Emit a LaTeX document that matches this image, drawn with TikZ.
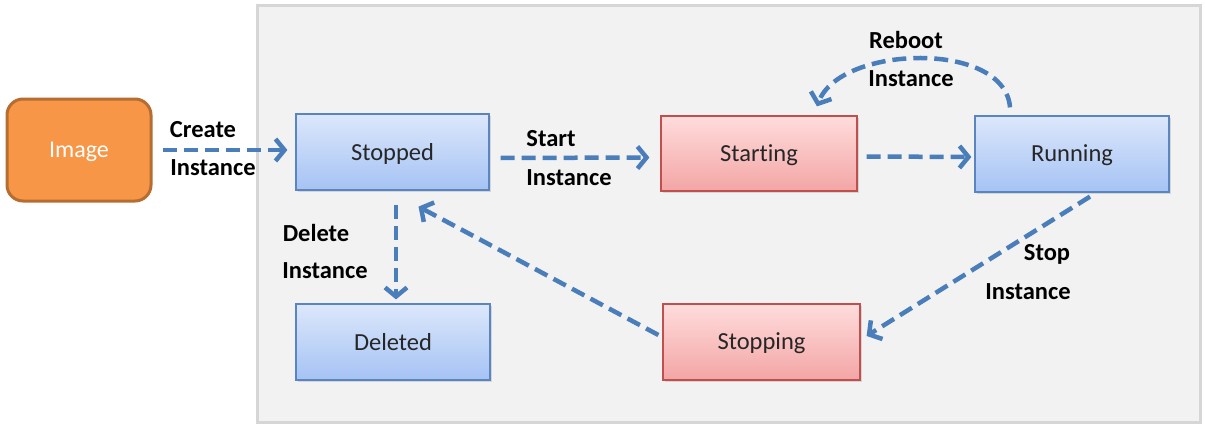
\documentclass[tikz,border=0pt]{standalone}
\usepackage{fontspec}
\setmainfont{Carlito}[Ligatures={NoCommon}]
\usetikzlibrary{arrows.meta,shadows}
\definecolor{arrblue}{HTML}{4A7EBB}
\definecolor{bluetop}{HTML}{DCE7FB}
\definecolor{bluebot}{HTML}{A5C3F4}
\definecolor{blueline}{HTML}{5B85C0}
\definecolor{redtop}{HTML}{FFDCDC}
\definecolor{redbot}{HTML}{F3A5A5}
\definecolor{redline}{HTML}{C0504D}
\definecolor{orangefill}{HTML}{F79646}
\definecolor{orangeline}{HTML}{B66D31}
\definecolor{panelfill}{HTML}{F2F2F2}
\definecolor{panelline}{HTML}{D6D6D6}
\tikzset{
  state/.style={draw, line width=1.2pt, font=\fontsize{24.5}{28}\selectfont, text=black!85,
    text depth=1pt,
    drop shadow={shadow xshift=1.5pt, shadow yshift=-1.5pt, opacity=0.25}},
  bluebox/.style={state, draw=blueline, top color=bluetop, bottom color=bluebot},
  redbox/.style={state, draw=redline, top color=redtop, bottom color=redbot},
  lbl/.style={font=\bfseries\fontsize{24.5}{28}\selectfont, inner sep=0pt},
  arr/.style={draw=arrblue, line width=4.5pt, dash pattern=on 14pt off 7pt,
    -{Straight Barb[length=9pt,width=22pt,line width=4.5pt]}},
}
\begin{document}
\begin{tikzpicture}[x=1pt,y=-1pt]
\useasboundingbox (0,0) rectangle (1205,428);
\fill[white] (0,0) rectangle (1205,428);
\draw[panelline, fill=panelfill, line width=3pt] (257,6) rectangle (1200,422);

\node[draw=orangeline, fill=orangefill, line width=3pt, rounded corners=16pt,
  minimum width=144pt, minimum height=102pt, text=white, text depth=1pt,
  font=\fontsize{24}{28}\selectfont] (img) at (79,150) {Image};

\node[bluebox, minimum width=193pt, minimum height=76pt] (stopped) at (392.5,152) {Stopped};
\node[redbox, minimum width=196pt, minimum height=75pt] (starting) at (759,153.5) {Starting};
\node[bluebox, minimum width=194pt, minimum height=76pt] (running) at (1072,154) {Running};
\node[bluebox, minimum width=194pt, minimum height=76pt] (deleted) at (393,342) {Deleted};
\node[redbox, minimum width=197pt, minimum height=76pt] (stopping) at (761.5,342) {Stopping};

\node[lbl] (lcreate1) at (203,130) {Create};
\node[lbl] (lcreate2) at (213,168) {Instance};
\node[lbl] (lstart1) at (551,139) {Start};
\node[lbl] (lstart2) at (569,178) {Instance};
\node[lbl] (lreboot1) at (906,40) {Reboot};
\node[lbl] (lreboot2) at (911,79) {Instance};
\node[lbl] (ldel1) at (316,233) {Delete};
\node[lbl] (ldel2) at (325,271) {Instance};
\node[lbl] (lstop1) at (1047,254) {Stop};
\node[lbl] (lstop2) at (1028,292) {Instance};

\draw[arr] ([xshift=10pt]img.east) -- ([xshift=-8pt,yshift=2pt]stopped.west);
\draw[arr] ([xshift=11pt,yshift=-6pt]stopped.east) -- ([xshift=-11pt,yshift=-4pt]starting.west);
\draw[arr] ([xshift=9pt,yshift=-3pt]starting.east) -- ([xshift=-3pt,yshift=-3pt]running.west);
\draw[arr] ([xshift=-62pt,yshift=8pt]running.north) .. controls (1005,40) and (840,45) .. ([xshift=58pt,yshift=9pt]starting.north);
\draw[arr] ([xshift=3.5pt,yshift=-14pt]stopped.south) -- ([xshift=3pt,yshift=4pt]deleted.north);
\draw[arr] ([xshift=-4pt,yshift=7pt]stopping.west) -- ([xshift=26pt,yshift=-16pt]stopped.south);
\draw[arr] ([xshift=18pt,yshift=-4pt]running.south) -- ([xshift=6pt,yshift=6pt]stopping.east);
\end{tikzpicture}
\end{document}
